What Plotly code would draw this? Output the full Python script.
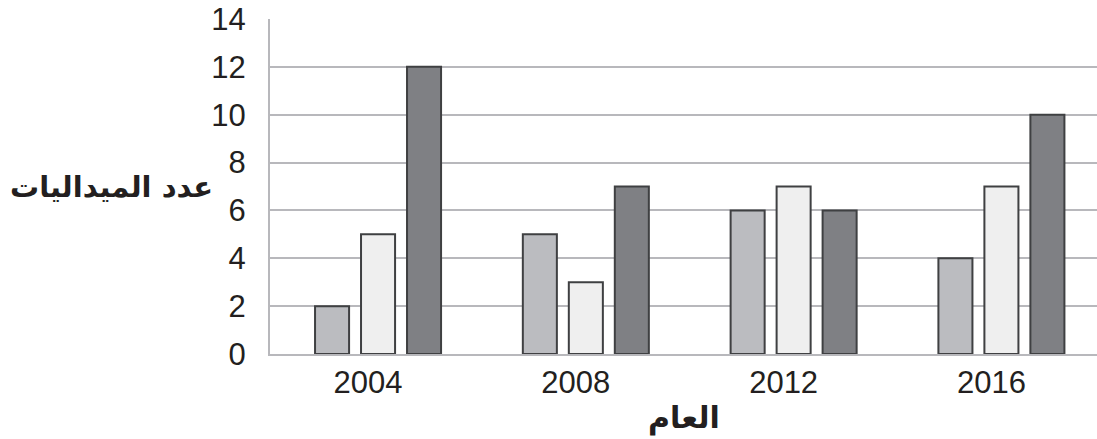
import plotly.graph_objects as go

years = ["2004", "2008", "2012", "2016"]
series_a = [2, 5, 6, 4]
series_b = [5, 3, 7, 7]
series_c = [12, 7, 6, 10]
y_ticks = [0, 2, 4, 6, 8, 10, 12, 14]

colors = ["#bbbcc0", "#efefef", "#7f8084"]
outline = "#3f4042"

fig = go.Figure()
for vals, col in zip([series_a, series_b, series_c], colors):
    fig.add_trace(go.Bar(x=years, y=vals, marker=dict(color=col, line=dict(color=outline, width=2)),
                         showlegend=False))

fig.update_layout(
    width=1097, height=439,
    margin=dict(l=270, r=0, t=19, b=85),
    paper_bgcolor="white", plot_bgcolor="white",
    barmode="group", bargap=0.336, bargroupgap=0.26,
    font=dict(family="Liberation Sans, Arial, sans-serif", size=31, color="#231f20"),
    xaxis=dict(type="category", range=[-0.52, 3.46], showgrid=False, showline=True,
               linecolor="#b8b8bc", linewidth=2, ticks="", ticklabelstandoff=0,
               ticklabelshift=-10, tickfont=dict(size=31), automargin=False),
    yaxis=dict(range=[0, 14], tickvals=y_ticks, showgrid=True, gridcolor="#b8b8bc", gridwidth=2,
               showline=True, linecolor="#b8b8bc", linewidth=2, zeroline=False, ticks="",
               ticklabelstandoff=16, tickfont=dict(size=31), automargin=False),
    annotations=[
        dict(text="<b>عدد الميداليات</b>", xref="paper", yref="paper", x=-0.066, y=0.5,
             xanchor="right", yanchor="middle", showarrow=False,
             font=dict(family="DejaVu Sans", size=29, color="#231f20")),
        dict(text="<b>العام</b>", xref="paper", yref="paper", x=0.5, y=-0.19,
             xanchor="center", yanchor="middle", showarrow=False,
             font=dict(family="DejaVu Sans", size=30, color="#231f20")),
    ],
)

fig.write_html(
    "out.html",
    config={"displayModeBar": False},
    post_script="document.body.style.margin='0';document.body.style.overflow='hidden';"
                "document.documentElement.style.overflow='hidden';",
)
